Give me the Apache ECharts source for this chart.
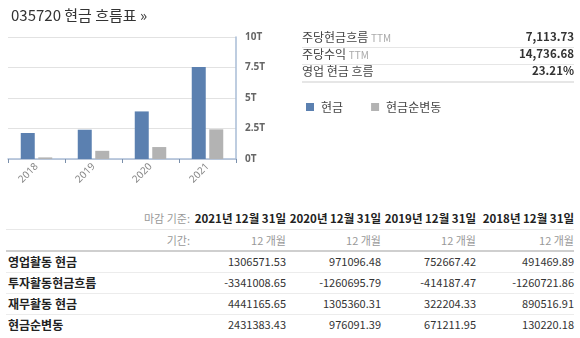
<!DOCTYPE html>
<html><head><meta charset="utf-8">
<script src="https://cdn.jsdelivr.net/npm/echarts@6/dist/echarts.min.js"></script>
<style>
html,body{margin:0;padding:0;background:#fff;width:580px;height:338px;overflow:hidden;font-family:"Noto Sans CJK KR","Noto Sans",sans-serif;}
#chart{position:absolute;left:0;top:0;width:580px;height:200px;}
.t{position:absolute;white-space:nowrap;}
.line{position:absolute;height:1px;background:#e4e4e4;}
</style></head><body>
<div id="chart"></div>
<div id="overlay"></div>
<script>
const categories = ['2018','2019','2020','2021'];
const cashValues = [2.13, 2.40, 3.90, 7.54];
const netChangeValues = [0.13, 0.67, 0.98, 2.43];
const yTicks = [0, 2.5, 5, 7.5, 10];

const ttmLabels = ['주당현금흐름','주당수익','영업 현금 흐름'];
const ttmSuffix = ['TTM','TTM',''];
const ttmValues = ['7,113.73','14,736.68','23.21%'];

const periodDates = ['2021년 12월 31일','2020년 12월 31일','2019년 12월 31일','2018년 12월 31일'];
const periodLen = ['12 개월','12 개월','12 개월','12 개월'];
const rowLabels = ['영업활동 현금','투자활동현금흐름','재무활동 현금','현금순변동'];
const row1 = ['1306571.53','971096.48','752667.42','491469.89'];
const row2 = ['-3341008.65','-1260695.79','-414187.47','-1260721.86'];
const row3 = ['4441165.65','1305360.31','322204.33','890516.91'];
const row4 = ['2431383.43','976091.39','671211.95','130220.18'];

const chart = echarts.init(document.getElementById('chart'));
chart.setOption({
  animation:false,
  title:{text:'035720 현금 흐름표 »',left:6,top:3,textStyle:{fontSize:15,fontWeight:'normal',color:'#333',fontFamily:'Noto Sans CJK KR'}},
  legend:{left:301,top:96,itemWidth:8,itemHeight:8,itemGap:28,icon:'rect',
    textStyle:{fontSize:12,color:'#444',fontFamily:'Noto Sans CJK KR',padding:[0,0,0,2]},
    data:['현금','현금순변동']},
  grid:{left:8,right:344,top:37,bottom:41},
  xAxis:{type:'category',data:categories,
    axisLine:{lineStyle:{color:'#a9bcd6',width:1.5}},
    axisTick:{show:true,length:4,lineStyle:{color:'#7a8fab'}},
    axisLabel:{rotate:45,color:'#888',fontSize:10,margin:6,fontFamily:'Noto Sans'}},
  yAxis:{type:'value',position:'right',min:yTicks[0],max:yTicks[yTicks.length-1],interval:2.5,
    axisLine:{show:true,lineStyle:{color:'#a9bcd6',width:1.5}},
    axisTick:{show:false},
    splitLine:{lineStyle:{color:'#e2e2e2'}},
    axisLabel:{margin:9,color:'#666',fontSize:10,fontWeight:'bold',fontFamily:'Noto Sans',
      formatter:v=>v+'T'}},
  series:[
    {name:'현금',type:'bar',data:cashValues,barWidth:14,barGap:'25%',itemStyle:{color:'#5b80b0'}},
    {name:'현금순변동',type:'bar',data:netChangeValues,barWidth:14,itemStyle:{color:'#b3b3b3'}}
  ]
});

// HTML overlay for text panels
const ov = document.getElementById('overlay');
function add(html, style){const d=document.createElement('div');d.className='t';d.innerHTML=html;d.setAttribute('style',style);ov.appendChild(d);return d;}
function line(top,left,width,color,h){const d=document.createElement('div');d.className='line';d.setAttribute('style',`top:${top}px;left:${left}px;width:${width}px;background:${color};height:${h||1}px`);ov.appendChild(d);}

// TTM panel
const ttmY=[29,46,63];
ttmLabels.forEach((l,i)=>{
  add(l+(ttmSuffix[i]?' <span style="color:#aaa;font-size:10px">'+ttmSuffix[i]+'</span>':''),
    `left:302px;top:${ttmY[i]}px;font-size:12px;color:#444;line-height:15px`);
  add(ttmValues[i],`right:6px;top:${ttmY[i]}px;font-size:11.5px;font-weight:bold;color:#333;line-height:15px`);
});
line(47,302,272,'#e6e6e6');line(64,302,272,'#e6e6e6');line(81,302,272,'#e6e6e6',2);

// Table
const colRight=[294,199,104,6]; // right offsets
add('마감 기준:',`right:${580-190}px;top:211px;font-size:11px;color:#999;line-height:15px`);
periodDates.forEach((d,i)=>add(d,`right:${colRight[i]}px;top:211px;font-size:11.5px;font-weight:bold;color:#222;line-height:15px`));
line(229,6,568,'#e8e8e8');
add('기간:',`right:${580-190}px;top:233px;font-size:11px;color:#999;line-height:15px`);
periodLen.forEach((d,i)=>add(d,`right:${colRight[i]}px;top:233px;font-size:11px;color:#999;line-height:15px`));
line(250,6,568,'#cfcfcf',2);
const rows=[row1,row2,row3,row4];
const rowY=[254,275,296,317];
rowLabels.forEach((l,r)=>{
  add(l,`left:8px;top:${rowY[r]}px;font-size:12px;font-weight:bold;color:#222;line-height:15px`);
  rows[r].forEach((v,i)=>add(v,`right:${colRight[i]}px;top:${rowY[r]}px;font-size:11px;color:#333;line-height:15px`));
  if(r<3) line(rowY[r]+18,6,568,'#ececec');
});
</script>
</body></html>
